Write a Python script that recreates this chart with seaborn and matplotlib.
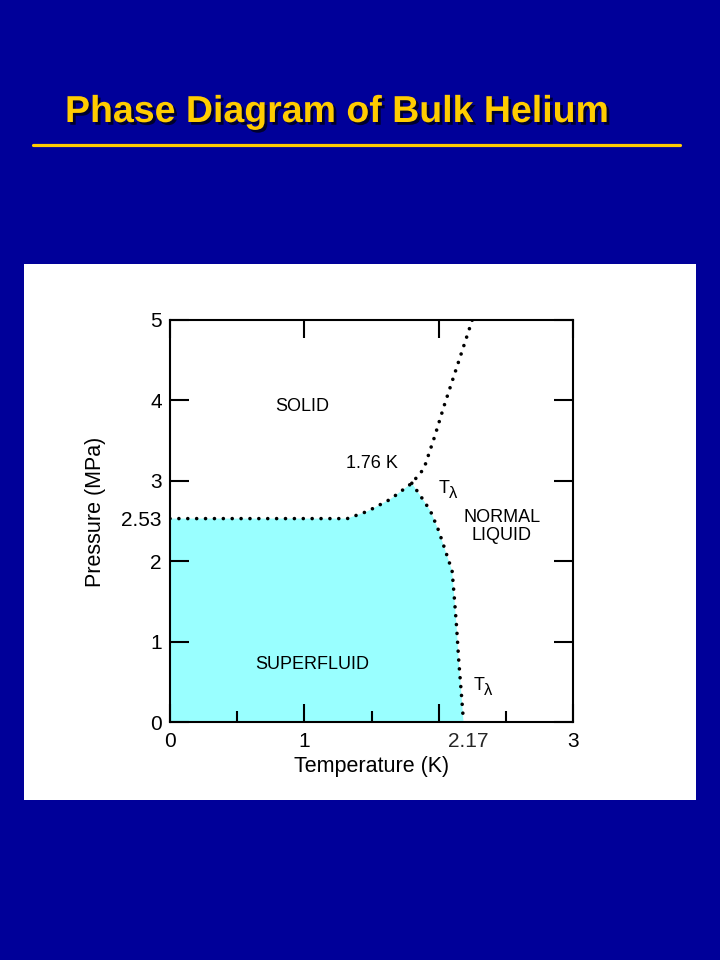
import numpy as np
import pandas as pd
import matplotlib
matplotlib.use("Agg")
import matplotlib.pyplot as plt
import seaborn as sns
from matplotlib import patheffects as pe
from matplotlib.patches import Rectangle
from matplotlib.lines import Line2D

# ---- data ----
melt_T = [0.0, 0.5, 1.0, 1.32, 1.47, 1.64, 1.80, 1.89, 1.97, 2.04, 2.15, 2.25]
melt_P = [2.53, 2.53, 2.53, 2.53, 2.62, 2.77, 2.97, 3.15, 3.55, 3.93, 4.49, 5.0]
lambda_T = [1.80, 1.89, 1.94, 2.00, 2.05, 2.10, 2.115, 2.134, 2.15, 2.17, 2.185]
lambda_P = [2.97, 2.75, 2.62, 2.38, 2.13, 1.88, 1.58, 1.17, 0.75, 0.33, 0.0]
n_lower_melt = 7  # melting-curve points up to the lambda junction

x_major = [0, 1, 2, 3]
x_major_labels = ["0", "1", "", "3"]
x_minor = [0.5, 1.5, 2.5]
x_special = 2.17
x_special_label = "2.17"
y_major = [0, 1, 2, 3, 4, 5]
y_major_labels = ["0", "1", "2", "3", "4", "5"]
y_special = [2.53]
y_special_labels = ["2.53"]

sns.set_theme(style="white")
plt.rcParams["font.family"] = ["Liberation Sans", "DejaVu Sans"]

BG = "#000099"
YEL = "#FFCC00"
CYAN = "#99FFFF"

fig = plt.figure(figsize=(7.2, 9.6), dpi=100, facecolor=BG)

# white panel
panel = Rectangle((24 / 720, 1 - 800 / 960), (696 - 24) / 720, (800 - 264) / 960,
                  transform=fig.transFigure, facecolor="white", edgecolor="none", zorder=-10)
fig.add_artist(panel)

# title with shadow
fig.text(65 / 720, 1 - 122 / 960, "Phase Diagram of Bulk Helium", fontsize=27, fontweight="bold",
         color=YEL, ha="left", va="baseline",
         path_effects=[pe.SimplePatchShadow(offset=(2, -2), shadow_rgbFace="black", alpha=0.7), pe.Normal()])
fig.add_artist(Line2D([33 / 720, 680 / 720], [1 - 145 / 960] * 2, color=YEL, lw=2.3,
                      transform=fig.transFigure))

ax = fig.add_axes([170 / 720, 1 - 722 / 960, 403 / 720, 402 / 960])
ax.set_zorder(5)
ax.set_facecolor("white")
ax.set_axisbelow(False)

# superfluid region
poly_T = [0.0] + melt_T[:n_lower_melt] + lambda_T[1:]
poly_P = [0.0] + melt_P[:n_lower_melt] + lambda_P[1:]
ax.fill(poly_T, poly_P, color=CYAN, lw=0, zorder=1)

melt_df = pd.DataFrame({"T": melt_T, "P": melt_P})
lam_df = pd.DataFrame({"T": lambda_T, "P": lambda_P})
sns.lineplot(data=melt_df, x="T", y="P", sort=False, estimator=None, ax=ax, color="black")
sns.lineplot(data=lam_df, x="T", y="P", sort=False, estimator=None, ax=ax, color="black")
for ln in ax.lines:
    ln.set_linewidth(2.6)
    ln.set_linestyle((0, (0.01, 2.45)))
    ln.set_dash_capstyle("round")
    ln.set_zorder(3)

ax.set_xlim(0, 3)
ax.set_ylim(0, 5)

ax.set_xticks(x_major)
ax.set_xticklabels(x_major_labels)
ax.set_xticks(x_minor, minor=True)
ax.tick_params(axis="x", which="major", direction="in", length=13, width=1.5, top=True,
               bottom=True, labelsize=15, pad=7, colors="black")
ax.tick_params(axis="x", which="minor", direction="in", length=8, width=1.5, top=False,
               bottom=True, colors="black")
ax.annotate(x_special_label, xy=(x_special, 0), xycoords=("data", "axes fraction"),
            xytext=(5, -7), textcoords="offset points", ha="center", va="top", fontsize=15)

ax.set_yticks(y_major)
ax.set_yticklabels(y_major_labels)
ax.set_yticks(y_special, minor=True)
ax.set_yticklabels(y_special_labels, minor=True)
ax.tick_params(axis="y", which="major", direction="in", length=14, width=1.5, left=True,
               right=True, labelsize=15, pad=6, colors="black")
ax.tick_params(axis="y", which="minor", direction="in", length=0, labelsize=15, pad=6,
               colors="black")

for s in ax.spines.values():
    s.set_color("black")
    s.set_linewidth(1.5)
    s.set_zorder(4)

ax.set_xlabel("Temperature (K)", fontsize=15.5, color="black", labelpad=4)
ax.set_ylabel("Pressure (MPa)", fontsize=15.5, color="black", labelpad=12)
ax.yaxis.set_label_coords(-0.16, 0.522)

# region labels
ax.text(0.985, 3.925, "SOLID", ha="center", va="center", fontsize=13, color="black")
ax.text(1.50, 3.21, "1.76 K", ha="center", va="center", fontsize=13, color="black")
ax.text(2.47, 2.43, "NORMAL\nLIQUID", ha="center", va="center", multialignment="center",
        linespacing=1.05, fontsize=13, color="black")
ax.text(1.06, 0.71, "SUPERFLUID", ha="center", va="center", fontsize=13, color="black")

for tx, ty in [(2.00, 2.85), (2.26, 0.40)]:
    ax.text(tx, ty, "T", ha="left", va="baseline", fontsize=13, color="black")
    ax.annotate("λ", xy=(tx, ty), xytext=(7.3, -3.8), textcoords="offset points",
                ha="left", va="baseline", fontsize=12, color="black")

fig.savefig("out.png", dpi=100, facecolor=fig.get_facecolor())
